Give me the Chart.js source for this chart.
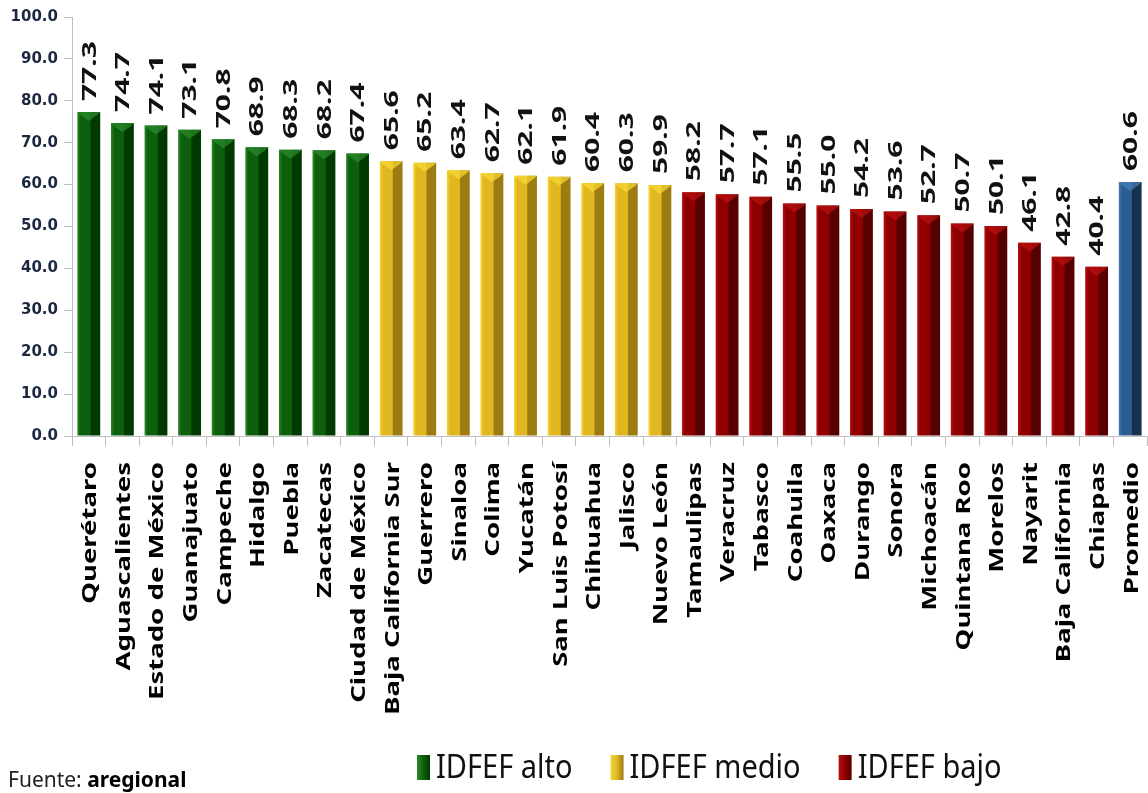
<!DOCTYPE html>
<html>
<head>
<meta charset="utf-8">
<script src="https://cdn.jsdelivr.net/npm/chart.js@4.4.0/dist/chart.umd.min.js"></script>
<style>
  html, body { margin: 0; padding: 0; background: #fff; }
  #wrap { width: 1148px; height: 793px; position: relative; }
</style>
</head>
<body>
<div id="wrap"><canvas id="idfef-chart"></canvas></div>
<script>
// data
const estados = ["Querétaro", "Aguascalientes", "Estado de México", "Guanajuato", "Campeche", "Hidalgo",
  "Puebla", "Zacatecas", "Ciudad de México", "Baja California Sur", "Guerrero", "Sinaloa", "Colima",
  "Yucatán", "San Luis Potosí", "Chihuahua", "Jalisco", "Nuevo León", "Tamaulipas", "Veracruz",
  "Tabasco", "Coahuila", "Oaxaca", "Durango", "Sonora", "Michoacán", "Quintana Roo", "Morelos",
  "Nayarit", "Baja California", "Chiapas", "Promedio"];
const valores = [77.3, 74.7, 74.1, 73.1, 70.8, 68.9, 68.3, 68.2, 67.4, 65.6, 65.2, 63.4, 62.7,
  62.1, 61.9, 60.4, 60.3, 59.9, 58.2, 57.7, 57.1, 55.5, 55.0, 54.2, 53.6, 52.7, 50.7, 50.1,
  46.1, 42.8, 40.4, 60.6];
// 0 = alto, 1 = medio, 2 = bajo, 3 = promedio
const grupos = [0, 0, 0, 0, 0, 0, 0, 0, 0, 1, 1, 1, 1, 1, 1, 1, 1, 1,
  2, 2, 2, 2, 2, 2, 2, 2, 2, 2, 2, 2, 2, 3];
const leyenda = ["IDFEF alto", "IDFEF medio", "IDFEF bajo"];
const yMin = 0, yMax = 100, yStep = 10;

const paleta = [
  { light: "#2a8a2a", main: "#0d5e0d", dark: "#003a00" },
  { light: "#f7d733", main: "#e0b621", dark: "#9b7b12" },
  { light: "#b81010", main: "#8e0000", dark: "#560000" },
  { light: "#4a7db5", main: "#2b5d93", dark: "#17324f" }
];
const barPct = 0.68;

function barFill(c) {
  const p = paleta[grupos[c.dataIndex]];
  const xs = c.chart.scales.x;
  if (!xs || !c.chart.chartArea) return p.main;
  const cx = xs.getPixelForValue(c.dataIndex);
  const half = xs.width / estados.length * barPct / 2;
  const g = c.chart.ctx.createLinearGradient(cx - half, 0, cx + half, 0);
  g.addColorStop(0, p.light);
  g.addColorStop(0.14, p.main);
  g.addColorStop(0.55, p.main);
  g.addColorStop(0.6, p.dark);
  g.addColorStop(1, p.dark);
  return g;
}

// bevel cap on top of each bar + numbers above, written upward
const valueLabels = {
  id: "valueLabels",
  afterDatasetsDraw(chart) {
    const ctx = chart.ctx;
    chart.getDatasetMeta(0).data.forEach((bar, i) => {
      const p = paleta[grupos[i]];
      const half = bar.width / 2;
      ctx.save();
      ctx.fillStyle = p.light;
      ctx.beginPath();
      ctx.moveTo(bar.x - half, bar.y);
      ctx.lineTo(bar.x + half, bar.y);
      ctx.lineTo(bar.x + half - 3, bar.y + 3);
      ctx.lineTo(bar.x, bar.y + 9);
      ctx.lineTo(bar.x - half + 3, bar.y + 3);
      ctx.closePath();
      ctx.globalAlpha = 0.75;
      ctx.fill();
      ctx.restore();

      ctx.save();
      ctx.translate(bar.x + 1, bar.y - 11);
      ctx.rotate(-Math.PI / 2);
      ctx.scale(1.5, 1);
      ctx.font = "bold 20px 'Noto Sans'";
      ctx.fillStyle = "#111";
      ctx.textAlign = "left";
      ctx.textBaseline = "middle";
      ctx.fillText(valores[i].toFixed(1), 0, 0);
      ctx.restore();
    });
  }
};

// state names under the axis, written upward
const catLabels = {
  id: "catLabels",
  afterDraw(chart) {
    const ctx = chart.ctx;
    const xs = chart.scales.x;
    estados.forEach((name, i) => {
      ctx.save();
      ctx.translate(xs.getPixelForValue(i) + 2, xs.top + 26);
      ctx.rotate(-Math.PI / 2);
      ctx.scale(1.45, 1);
      ctx.font = "bold 19px 'Noto Sans'";
      ctx.fillStyle = "#000";
      ctx.textAlign = "right";
      ctx.textBaseline = "middle";
      ctx.fillText(name, 0, 0);
      ctx.restore();
    });
  }
};

// legend + source note at the bottom
const footer = {
  id: "footer",
  afterDraw(chart) {
    const ctx = chart.ctx;
    let x = 417;
    const top = 755, h = 25;
    leyenda.forEach((txt, i) => {
      const p = paleta[i];
      const g = ctx.createLinearGradient(x, 0, x + 13, 0);
      g.addColorStop(0, p.light);
      g.addColorStop(0.5, p.main);
      g.addColorStop(1, p.dark);
      ctx.fillStyle = g;
      ctx.fillRect(x, top, 13, h);
      ctx.save();
      ctx.translate(x + 19, 778);
      ctx.scale(1, 1.15);
      ctx.font = "29px 'Noto Sans'";
      ctx.fillStyle = "#111";
      ctx.textBaseline = "alphabetic";
      ctx.fillText(txt, 0, 0);
      const w = ctx.measureText(txt).width;
      ctx.restore();
      x += 19 + w + 38;
    });

    ctx.save();
    ctx.fillStyle = "#222";
    ctx.textBaseline = "alphabetic";
    ctx.font = "21px 'Noto Sans'";
    ctx.fillText("Fuente: ", 8, 787);
    const fw = ctx.measureText("Fuente: ").width;
    ctx.font = "bold 21px 'Noto Sans'";
    ctx.fillStyle = "#000";
    ctx.fillText("aregional", 8 + fw, 787);
    ctx.restore();
  }
};

new Chart(document.getElementById("idfef-chart"), {
  type: "bar",
  data: {
    labels: estados,
    datasets: [{
      label: "IDFEF",
      data: valores,
      backgroundColor: barFill,
      borderWidth: 0,
      barPercentage: barPct,
      categoryPercentage: 1
    }]
  },
  options: {
    responsive: true,
    maintainAspectRatio: false,
    animation: false,
    layout: { padding: { top: 17, right: 1, left: 0, bottom: 0 } },
    plugins: {
      legend: { display: false },
      tooltip: { enabled: false }
    },
    scales: {
      x: {
        afterFit(s) { s.height = 357; },
        ticks: { display: false },
        grid: { drawOnChartArea: false, drawTicks: true, tickLength: 10, color: "#bfbfbf" },
        border: { color: "#bfbfbf" }
      },
      y: {
        min: yMin,
        max: yMax,
        afterFit(s) { s.width = 72; },
        ticks: {
          stepSize: yStep,
          padding: 6,
          color: "#1c2841",
          font: { family: "'DejaVu Sans'", weight: "bold", size: 15 },
          callback: v => v.toFixed(1)
        },
        grid: { drawOnChartArea: false, drawTicks: true, tickLength: 8, color: "#bfbfbf" },
        border: { color: "#bfbfbf" }
      }
    }
  },
  plugins: [valueLabels, catLabels, footer]
});
</script>
</body>
</html>
